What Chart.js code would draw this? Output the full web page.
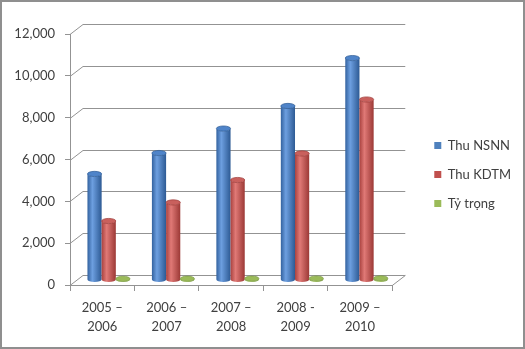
<!DOCTYPE html>
<html lang="vi">
<head>
  <meta charset="UTF-8">
  <title>Thu NSNN và Thu KDTM</title>
  <script src="https://cdn.jsdelivr.net/npm/chart.js"></script>
  <style>
    body {
      margin: 0;
      background-color: #ffffff;
    }
    canvas {
      display: block;
    }
  </style>
</head>
<body>

  <canvas id="myChart" width="525" height="349"></canvas>

  <script>
    // du lieu doc tu bieu do
    var namHoc = [['2005 –', '2006'], ['2006 –', '2007'], ['2007 –', '2008'], ['2008 -', '2009'], ['2009 –', '2010']];
    var thuNSNN = [5070, 6070, 7240, 8320, 10610];
    var thuKDTM = [2820, 3710, 4780, 6050, 8630];
    var tyTrong = [55.6, 61.1, 66.0, 72.7, 81.3];
    var yTicks = [0, 2000, 4000, 6000, 8000, 10000, 12000];

    var depthX = 13, depthY = 10;
    var gridColor = '#939393';
    var textColor = '#404040';
    var fontName = 'Lato';

    // mau cho hinh tru: [canh trai, sang, canh phai, nap]
    var shades = [
      ['#33629f', '#6d9fe0', '#2d5a94', '#4f84c9'],
      ['#a9423f', '#e07976', '#9c3936', '#c9605d'],
      ['#7f9f43', '#b9d57a', '#7a9942', '#9bbb59']
    ];

    function drawCylinder(ctx, cx, top, base, w, c) {
      var rx = w / 2, ry = 2.6;
      var g = ctx.createLinearGradient(cx - rx, 0, cx + rx, 0);
      g.addColorStop(0, c[0]);
      g.addColorStop(0.35, c[1]);
      g.addColorStop(1, c[2]);
      ctx.fillStyle = g;
      ctx.beginPath();
      ctx.moveTo(cx - rx, top);
      ctx.lineTo(cx - rx, base);
      ctx.ellipse(cx, base, rx, ry, 0, Math.PI, 0, true);
      ctx.lineTo(cx + rx, top);
      ctx.ellipse(cx, top, rx, ry, 0, 0, Math.PI, false);
      ctx.closePath();
      ctx.fill();

      ctx.beginPath();
      ctx.ellipse(cx, top, rx, ry, 0, 0, Math.PI * 2);
      ctx.fillStyle = c[3];
      ctx.fill();
      ctx.lineWidth = 0.7;
      ctx.strokeStyle = c[2];
      ctx.stroke();
    }

    var khung3D = {
      id: 'khung3D',
      beforeDraw: function(chart) {
        var ctx = chart.ctx;
        ctx.save();
        ctx.fillStyle = '#ffffff';
        ctx.fillRect(0, 0, chart.width, chart.height);
        ctx.restore();
      },
      beforeDatasetsDraw: function(chart) {
        var ctx = chart.ctx, area = chart.chartArea, y = chart.scales.y;
        ctx.save();
        ctx.strokeStyle = gridColor;
        ctx.lineWidth = 1;
        yTicks.forEach(function(v) {
          var py = Math.round(y.getPixelForValue(v)) + 0.5;
          ctx.beginPath();
          ctx.moveTo(area.left, py);
          ctx.lineTo(area.left + depthX, py - depthY);
          ctx.lineTo(area.right + depthX, py - depthY);
          if (v === 0) ctx.lineTo(area.right, py);
          ctx.stroke();
        });

        chart.data.datasets.forEach(function(ds, i) {
          var meta = chart.getDatasetMeta(i);
          meta.data.forEach(function(el) {
            drawCylinder(ctx, el.x + depthX / 2, el.y - depthY / 2, el.base - depthY / 2, el.width, shades[i]);
          });
        });
        ctx.restore();
        return false;
      },
      afterDraw: function(chart) {
        var ctx = chart.ctx;
        ctx.save();
        ctx.strokeStyle = '#8f8f8f';
        ctx.lineWidth = 2;
        ctx.strokeRect(1, 1, chart.width - 2, chart.height - 2);
        ctx.restore();
      }
    };

    var ctx = document.getElementById('myChart').getContext('2d');
    var myChart = new Chart(ctx, {
      type: 'bar',
      data: {
        labels: namHoc,
        datasets: [
          { label: 'Thu NSNN', data: thuNSNN, backgroundColor: '#4f81bd' },
          { label: 'Thu KDTM', data: thuKDTM, backgroundColor: '#c0504d' },
          { label: 'Tỷ trọng', data: tyTrong, backgroundColor: '#9bbb59' }
        ]
      },
      options: {
        responsive: false,
        animation: false,
        datasets: {
          bar: { categoryPercentage: 0.66, barPercentage: 1 }
        },
        layout: { padding: { top: 0, left: 0, bottom: 0, right: 4 } },
        plugins: {
          legend: {
            position: 'right',
            labels: {
              boxWidth: 7,
              boxHeight: 7,
              padding: 16,
              color: textColor,
              font: { family: fontName, size: 13 }
            }
          },
          tooltip: { enabled: false }
        },
        scales: {
          x: {
            grid: { display: true, drawOnChartArea: false, offset: true, tickLength: 6, color: gridColor },
            border: { color: gridColor },
            ticks: {
              color: textColor,
              maxRotation: 0,
              padding: 7,
              font: { family: fontName, size: 13, lineHeight: 1.5 }
            },
            afterFit: function(s) { s.height = 64; }
          },
          xTop: {
            position: 'top',
            display: false,
            afterFit: function(s) { s.height = 34; }
          },
          y: {
            min: 0,
            max: 12000,
            ticks: {
              stepSize: 2000,
              color: textColor,
              padding: 10,
              font: { family: fontName, size: 13 }
            },
            grid: { display: true, drawOnChartArea: false, tickLength: 5, color: gridColor },
            border: { color: gridColor },
            afterFit: function(s) { s.width = 70; }
          },
          yR: {
            position: 'right',
            display: false,
            afterFit: function(s) { s.width = 26; }
          }
        }
      },
      plugins: [khung3D]
    });
  </script>

</body>
</html>
